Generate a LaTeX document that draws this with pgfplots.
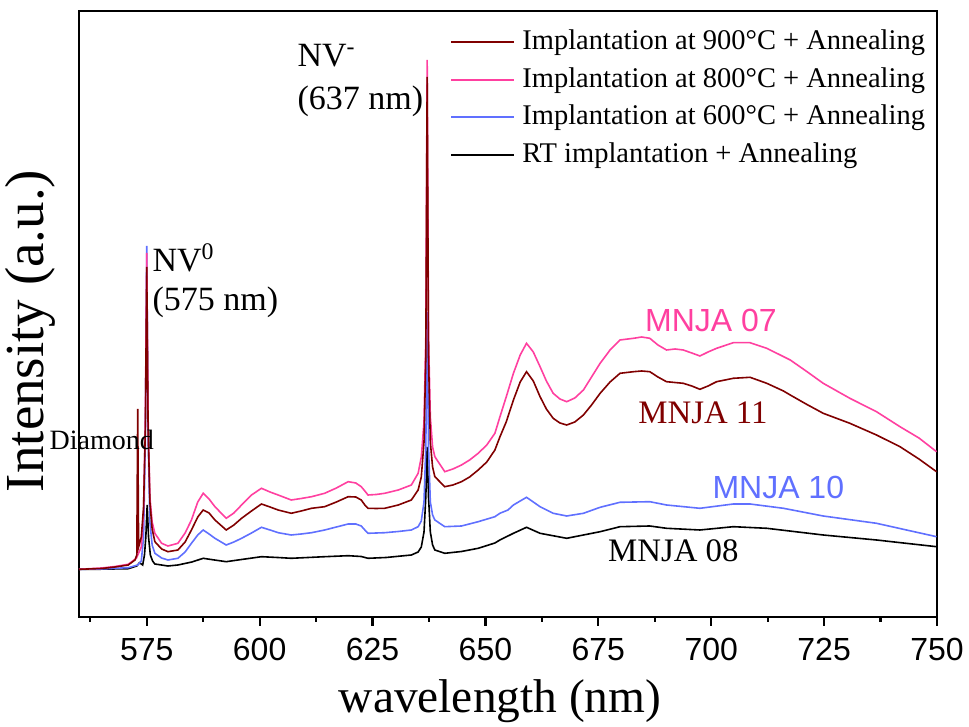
\documentclass[border=0pt]{standalone}
\usepackage{fontspec}
\setmainfont{Liberation Serif}
\newfontfamily\arial{Liberation Sans}
\usepackage{pgfplots}
\pgfplotsset{compat=1.18}
\definecolor{cdred}{RGB}{128,0,0}
\definecolor{cpink}{RGB}{255,64,160}
\definecolor{cblue}{RGB}{96,112,255}
\begin{document}
\begin{tikzpicture}
\begin{axis}[
  scale only axis, width=429pt, height=303pt,
  xmin=560, xmax=750, ymin=0, ymax=606,
  clip=false,
  axis line style={line width=1.25pt},
  xtick={575,600,...,750}, minor xtick={562.5,587.5,...,737.5},
  xtick pos=bottom, ytick=\empty, tick align=outside,
  major tick length=4.5pt, minor tick length=2.5pt,
  tick style={black, line width=1.1pt},
  /pgf/number format/assume math mode=true,
  xticklabel style={font=\arial\fontsize{16}{19}\selectfont, yshift=-2.5pt},
  xlabel={wavelength (nm)},
  xlabel style={font=\fontsize{23.7}{28}\selectfont, at={(axis description cs:0.4907,-0.1584)}, anchor=base},
  ylabel={Intensity (a.u.)},
  ylabel style={font=\fontsize{27.5}{33}\selectfont, at={(axis description cs:-0.0414,0.472)}, anchor=base},
  legend style={at={(axis description cs:0.4254,0.9785)}, anchor=north west, draw=none, fill=none,
    font=\fontsize{14.25}{17}\selectfont, row sep=4.75pt,
    nodes={inner sep=0pt, text height=10.6pt, text depth=3.4pt}},
  legend cell align=left,
  legend image code/.code={\draw[#1] (0pt,0pt) -- (31.5pt,0pt); \path (35pt,0pt);},
  every axis plot/.append style={line width=0.8pt},
]
% RT implantation
\addplot[black, forget plot] coordinates {
(560,47.7) (565,47.8) (570.9,48.3) (572.8,51) (573.4,54.3) (574.1,52) (574.5,62) (574.8,80) (575.1,112) (575.4,80) (575.8,62) (576.3,56) (576.8,53) (579.7,51) (581.9,52) (585,55) (587.5,58.7) (590,57) (592.6,55.3) (596,57.5) (600.4,60.3) (604,59.5) (607.0,58.7) (614.4,60.3) (619.6,61.3) (622.5,60.5) (624.0,58.7) (628,59.5) (633.6,62) (635.1,65) (635.8,70) (636.4,85) (636.8,120) (637.1,170) (637.4,120) (637.8,85) (638.3,72) (638.8,67) (641.0,63.7) (644.7,65.5) (648.4,68.7) (652.1,74) (653.2,77) (656.2,83.7) (659.1,89.7) (662.1,83.7) (668.0,78.7) (675.4,85.3) (679.8,90.3) (686.4,91) (690.1,88.7) (697.5,87) (704.9,90.3) (712.3,88.7) (724.8,82) (736.6,77) (749.9,70.3)
};
% 600 C
\addplot[cblue, forget plot] coordinates {
(560,47.7) (565,48) (568,48.7) (570.9,49.3) (573.0,52) (573.8,56) (574.3,80) (574.7,180) (575.0,371) (575.3,180) (575.7,95) (576.2,72) (576.8,63.7) (578.3,59) (579.7,57) (581.9,58.7) (583.5,65) (584.9,73.7) (586.3,82) (587.5,87) (588.8,83) (590.1,78.7) (592.6,72) (594.3,75) (596,78.7) (598.2,84) (600.4,89.7) (602.3,87) (604.1,84.3) (607.0,82) (609.2,83) (611.5,84.3) (614.4,87) (617.0,90) (619.6,93) (621.3,93) (622.5,91) (623.3,87) (624.0,83.7) (627.7,84.3) (630.7,85.5) (633.6,87) (635.1,90.3) (635.8,96) (636.4,115) (636.8,170) (637.1,305) (637.4,170) (637.8,115) (638.3,102) (638.8,97) (641.0,90.3) (644.7,91) (648.4,95.3) (652.1,100.3) (653.2,103.7) (655.0,107) (656.2,112) (657.7,116) (659.1,119.7) (660.6,115) (662.1,110.3) (665.0,103.7) (668.0,101) (671.7,103.7) (675.4,109.7) (679.8,114.7) (686.4,115.3) (690.1,112) (697.5,108.7) (704.9,113) (708.6,113) (716.0,108.7) (724.8,101) (736.6,93.7) (749.9,80.3)
};
% 800 C
\addplot[cpink, forget plot] coordinates {
(560,47.7) (565,49) (568,50.5) (570.9,52.7) (572.7,58.7) (573.8,70) (574.3,105) (574.7,200) (575.0,364) (575.3,200) (575.7,120) (576.2,95) (576.8,83.7) (578.3,73.7) (579.7,71) (581.9,73.7) (583.5,84) (584.9,97) (586.3,115) (587.5,123.7) (588.8,118) (590.1,110.3) (592.6,98.7) (594.3,104) (596,112) (598.2,122) (600.4,128.7) (602.3,125) (604.1,122) (607.0,117) (609.2,118.5) (611.5,120.3) (614.4,123.7) (617.0,129) (619.6,135.3) (621.3,134) (622.5,130.3) (623.3,126) (624.0,122) (625.8,122.5) (627.7,123.7) (630.7,127) (633.6,132) (635.1,143.7) (635.8,160) (636.4,195) (636.8,280) (637.1,557) (637.4,280) (637.8,200) (638.3,170) (638.8,160.3) (641.0,145.3) (642.8,148) (644.7,152) (646.5,157) (648.4,163.7) (650.3,172) (652.1,183.7) (653.2,200) (654.6,220) (656.2,243.7) (657.7,262) (659.1,273.7) (660.6,265) (662.1,250.3) (663.5,236) (665.0,223.7) (666.5,218) (668.0,215.3) (669.8,219) (671.7,227) (673.5,240) (675.4,253.7) (677.6,267) (679.8,277) (682.8,278.7) (684.6,280) (686.4,278.7) (688.2,272) (690.1,267) (692,268) (693.8,267) (695.7,264) (697.5,261) (699.3,265) (701.2,268.7) (704.9,274.3) (708.6,274.3) (712.3,268.7) (717.5,257) (721.0,246) (724.8,233.7) (730.7,218.7) (736.6,205.3) (741.8,190.3) (746,179) (749.9,165.3)
};
% 900 C
\addplot[cdred, forget plot] coordinates {
(560,47.7) (565,48.5) (568,50) (570.9,52) (572.4,57) (572.8,62) (573.0,208) (573.2,70) (573.8,80) (574.3,110) (574.7,190) (575.0,350) (575.3,190) (575.7,115) (576.2,88) (576.8,75.3) (578.3,68) (579.7,65.3) (581.9,67) (583.5,75) (584.9,87) (586.3,100) (587.5,107) (588.8,104) (590.1,97) (592.6,87) (594.3,92) (596,98.7) (598.2,106) (600.4,113) (602.3,110) (604.1,107) (607.0,103.7) (609.2,106) (611.5,108.7) (614.4,110.3) (617.0,115) (619.6,120.3) (621.3,120) (622.5,117) (623.3,112) (624.0,108.7) (625.8,108.5) (627.7,108.7) (630.7,112) (633.6,117) (635.1,127) (635.8,140) (636.4,175) (636.8,260) (637.1,540) (637.4,260) (637.8,175) (638.3,150) (638.8,140.3) (641.0,130.3) (642.8,132) (644.7,135.3) (646.5,140) (648.4,147) (650.3,155) (652.1,167) (653.2,180) (654.6,195) (656.2,217) (657.7,235) (659.1,245.3) (660.6,236) (662.1,220.3) (663.5,208) (665.0,198.7) (666.5,194) (668.0,192) (669.8,195) (671.7,202) (673.5,212) (675.4,223.7) (677.6,235) (679.8,243.7) (682.8,245.3) (684.6,246) (686.4,245.3) (688.2,240) (690.1,235.3) (693.8,233.7) (695.7,231) (697.5,227.7) (699.3,231) (701.2,235.3) (704.9,238.7) (708.6,239.7) (712.3,233.7) (716.0,226) (717.5,222) (721.0,213) (724.8,203.7) (730.7,193.7) (736.6,182) (741.8,170.3) (746,158) (749.9,145.3)
};
\addlegendimage{cdred, line width=1pt}
\addlegendentry{Implantation at 900°C + Annealing}
\addlegendimage{cpink, line width=1pt}
\addlegendentry{Implantation at 800°C + Annealing}
\addlegendimage{cblue, line width=1pt}
\addlegendentry{Implantation at 600°C + Annealing}
\addlegendimage{black, line width=1pt}
\addlegendentry{RT implantation + Annealing}

\node[anchor=base west, inner sep=0pt, font=\fontsize{17}{20}\selectfont] at (axis cs:608.3,550) {NV\textsuperscript{-}};
\node[anchor=base west, inner sep=0pt, font=\fontsize{17}{20}\selectfont] at (axis cs:608.3,507) {(637 nm)};
\node[anchor=base west, inner sep=0pt, font=\fontsize{17}{20}\selectfont] at (axis cs:576.2,345) {NV\textsuperscript{0}};
\node[anchor=base west, inner sep=0pt, font=\fontsize{17}{20}\selectfont] at (axis cs:576.2,306) {(575 nm)};
\node[anchor=base west, inner sep=0pt, font=\fontsize{14}{17}\selectfont] at (axis cs:553.4,167) {Diamond};
\node[anchor=base west, inner sep=0pt, text=cpink, font=\arial\fontsize{16}{19}\selectfont] at (axis cs:685.3,285) {MNJA 07};
\node[anchor=base west, inner sep=0pt, text=cdred, font=\fontsize{16.4}{19}\selectfont] at (axis cs:683.8,193) {MNJA 11};
\node[anchor=base west, inner sep=0pt, text=cblue, font=\arial\fontsize{16}{19}\selectfont] at (axis cs:700.2,118) {MNJA 10};
\node[anchor=base west, inner sep=0pt, text=black, font=\fontsize{16.4}{19}\selectfont] at (axis cs:677.1,55) {MNJA 08};
\end{axis}
\pgfresetboundingbox
\useasboundingbox (current axis.south west) ++(-39.5pt,-55pt) rectangle ++(484.5pt,363.5pt);
\end{tikzpicture}
\end{document}
